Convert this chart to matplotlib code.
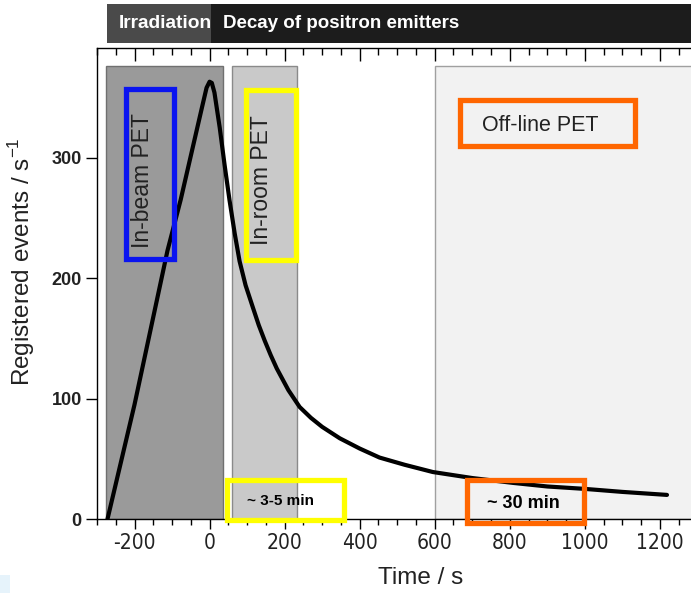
import matplotlib
matplotlib.use("Agg")
import matplotlib.pyplot as plt
from matplotlib.patches import Rectangle
from matplotlib.ticker import MultipleLocator

# ---- data ----
time_s = [-272, -200, -112, -77, -40, -20, -8, 0, 6, 13, 27, 40, 53, 67, 80, 96, 115,
          131, 147, 163, 179, 210, 240, 270, 300, 347, 400, 453, 520, 595, 700, 808,
          900, 1000, 1100, 1219]
events = [0, 95, 223, 265, 315, 342, 358, 363, 362, 354, 325, 294, 265, 237, 214, 194, 176,
          161, 148, 136, 125, 107, 93, 84, 76.5, 67, 58.5, 51, 45, 39, 34, 30,
          27, 25, 22.5, 20]

# measurement windows (x-start, x-end)
inbeam_window = (-275, 37)
inroom_window = (59, 232)
offline_window = (600, 1400)

xticks = [-200, 0, 200, 400, 600, 800, 1000, 1200]
yticks = [0, 100, 200, 300]

W, H = 691, 593
fig = plt.figure(figsize=(W / 100, H / 100), dpi=100)
fig.patch.set_facecolor("white")

def fx(px):
    return px / W

def fy(py):
    return 1 - py / H

ax = fig.add_axes([fx(97), fy(519), 1 - fx(97), fy(48) - fy(519)])
ax.set_xlim(-300, 1283)
ax.set_ylim(0, 391)

# shaded windows
rect_top = 376
ax.add_patch(Rectangle((inbeam_window[0], 0), inbeam_window[1] - inbeam_window[0], rect_top,
                       facecolor="#9a9a9a", edgecolor="#707070", lw=1.0, zorder=1))
ax.add_patch(Rectangle((inroom_window[0], 0), inroom_window[1] - inroom_window[0], rect_top,
                       facecolor="#c9c9c9", edgecolor="#8a8a8a", lw=1.0, zorder=1))
ax.add_patch(Rectangle((offline_window[0], 0), offline_window[1] - offline_window[0], rect_top,
                       facecolor="#f2f2f2", edgecolor="#a0a0a0", lw=1.0, zorder=1))

# curve
ax.plot(time_s, events, color="black", lw=3.0, solid_capstyle="round",
        solid_joinstyle="round", zorder=3)

# spines and ticks
ax.spines["right"].set_visible(False)
for s in ["left", "bottom", "top"]:
    ax.spines[s].set_linewidth(1.0)
ax.set_xticks(xticks)
ax.set_yticks(yticks)
ax.xaxis.set_minor_locator(MultipleLocator(50))
ax.tick_params(axis="x", which="major", direction="out", length=7, width=1.0,
               top=True, labeltop=False, pad=3)
ax.tick_params(axis="x", which="minor", direction="out", length=4, width=1.0, top=True)
ax.tick_params(axis="y", which="major", direction="out", length=8, width=1.0, pad=3)
# top ticks inward
for t in ax.xaxis.get_major_ticks():
    t.tick2line.set_marker(3)
    t.tick2line.set_markersize(9)
for t in ax.xaxis.get_minor_ticks():
    t.tick2line.set_marker(3)
    t.tick2line.set_markersize(5)

ax.set_xticklabels([str(v) for v in xticks],
                   fontdict={"family": ["DejaVu Sans"], "stretch": "condensed",
                             "size": 15, "color": "#222222"})
ax.set_yticklabels([str(v) for v in yticks],
                   fontdict={"family": ["Liberation Sans"], "size": 13,
                             "weight": "bold", "color": "#222222"})

fig.text(fx(421), fy(578), "Time / s", ha="center", va="center",
         fontsize=17.5, family=["Liberation Sans"], color="#222222")
fig.text(fx(22), fy(262), "Registered events / s$^{\\mathregular{-1}}$", ha="center",
         va="center", rotation=90, fontsize=17.5, family=["Liberation Sans"], color="#222222")

# top banner
fig.patches.append(Rectangle((fx(107), fy(43)), fx(211) - fx(107), fy(4) - fy(43),
                             transform=fig.transFigure, facecolor="#4a4a4a",
                             edgecolor="none", zorder=0))
fig.patches.append(Rectangle((fx(211), fy(43)), 1 - fx(211), fy(4) - fy(43),
                             transform=fig.transFigure, facecolor="#1c1c1c",
                             edgecolor="none", zorder=0))
fig.text(fx(119), fy(24), "Irradiation", ha="left", va="center", color="white",
         fontsize=13.8, weight="bold", family=["Liberation Sans"])
fig.text(fx(223), fy(24), "Decay of positron emitters", ha="left", va="center",
         color="white", fontsize=13.5, weight="bold", family=["Liberation Sans"])

# annotation boxes (data coordinates)
def box(x0, x1, y0, y1, color, lw=3.8):
    ax.add_patch(Rectangle((x0, y0), x1 - x0, y1 - y0, facecolor="none",
                           edgecolor=color, lw=lw, zorder=5, clip_on=False))

box(-224, -94, 216, 357, "#0a14f0")
ax.text(-178, 281, "In-beam PET", rotation=90, ha="center", va="center",
        fontsize=16.5, color="#222222", family=["Liberation Sans"], zorder=6)

box(97, 229, 215, 356, "#ffff00")
ax.text(139, 281, "In-room PET", rotation=90, ha="center", va="center",
        fontsize=16.5, color="#222222", family=["Liberation Sans"], zorder=6)

box(667, 1133, 310, 348, "#ff6600")
ax.text(880, 327, "Off-line PET", ha="center", va="center",
        fontsize=15.5, color="#222222", family=["Liberation Sans"], zorder=6)

box(46, 359, -1, 32, "#ffff00")
ax.text(189, 15, "~ 3-5 min", ha="center", va="center", fontsize=11,
        weight="bold", color="black", family=["Liberation Sans"], zorder=6)

box(686, 999, -3, 32, "#ff6600")
ax.text(837, 13, "~ 30 min", ha="center", va="center", fontsize=13,
        weight="bold", color="black", family=["Liberation Sans"], zorder=6)

# small light-blue artifact bottom-left
fig.patches.append(Rectangle((0, 0), fx(10), fy(575), transform=fig.transFigure,
                             facecolor="#e6f3fb", edgecolor="none", zorder=0))

fig.savefig("out.png", dpi=100)
